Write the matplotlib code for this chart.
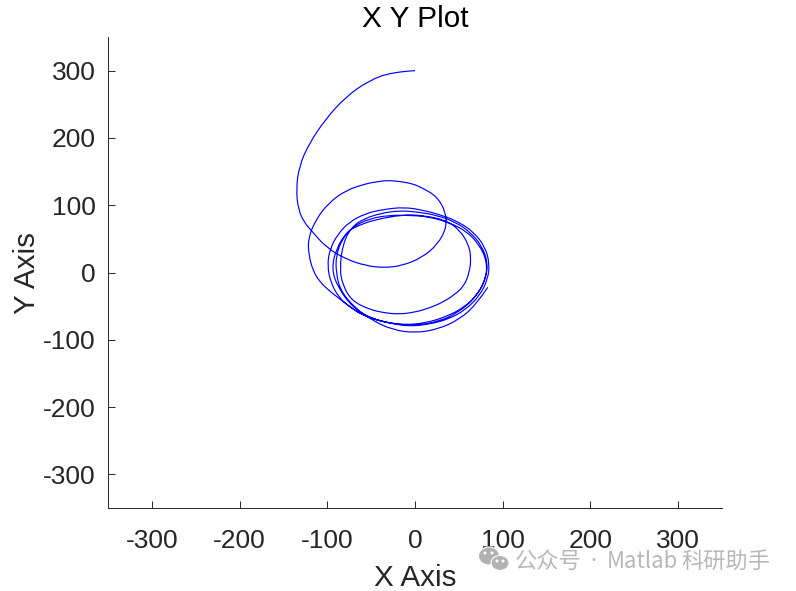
import matplotlib
matplotlib.use("Agg")
import matplotlib.pyplot as plt
from matplotlib.patches import Ellipse, PathPatch
from matplotlib.path import Path
from matplotlib.ticker import FuncFormatter

plt.rcParams['font.family'] = ['Liberation Sans', 'Noto Sans CJK SC', 'DejaVu Sans']

title = "X Y Plot"
xlabel = "X Axis"
ylabel = "Y Axis"
watermark_parts = ["公众号", "·", "Matlab", "科研助手"]
xticks = [-300, -200, -100, 0, 100, 200, 300]
yticks = [-300, -200, -100, 0, 100, 200, 300]

first_arc_x = [0, -26, -53, -79, -102, -121, -132, -135.5, -133, -126, -118,
               -101, -79, -56, -35, -15, 8, 26, 36, 35, 25, 8, -3, -16, -30, -43, -56, -79, -98, -113, -122]
first_arc_y = [300, 298, 285, 261, 228, 191, 158, 124, 93, 74, 62,
               37, 20, 10, 7, 10, 22, 42, 67, 90, 113, 126, 132, 135, 137, 135, 132, 122, 104, 79, 50]
outer_x = [-121, -116, -109, -98, -87, -75, -62, -45, -26, -7, 16, 39, 58, 74, 83, 85, 80, 67, 50, 31, 8, -12.5, -35, -56, -75,
           -88, -97, -100, -96, -87, -73, -56, -35, -12, 12, 35, 56, 72, 81, 83, 76, 63, 46, 25, 3, -18, -39, -58, -72, -82]
outer_y = [25, 2, -13, -27, -38, -50, -62, -70, -76, -80, -77, -69, -55, -34, -10, 13, 38, 60, 75, 85, 93, 97, 94, 88, 75,
           57, 35, 10, -15, -37, -53, -65, -74, -78, -75, -66, -52, -32, -7, 15, 40, 60, 75, 85, 90, 92, 88, 80, 68, 44]
inner_x = [-86, -82, -72, -52, -35, -18, 0, 16, 32, 45, 56, 62, 64, 61, 51, 35, 8, -14, -47, -62, -77, -90, -95, -88, -71, -49, -26, 0, 27,
           50, 69, 81, 82, 73, 58, 39, 16, -7, -30, -52, -71, -83, -90, -90, -85, -69, -49, -26, 0, 27, 50, 69, 83]
inner_y = [5, -20, -42, -55, -60, -62, -59, -53, -44, -33, -20, 0, 22, 42, 63, 78, 85, 86, 78, 71, 62, 35, 5, -22, -52, -69, -76, -79, -73,
           -59, -37, -10, 17, 42, 62, 74, 83, 85, 85, 80, 68, 50, 25, 0, -27, -52, -71, -85, -90, -84, -70, -49, -22]

curve_x = first_arc_x + outer_x + inner_x
curve_y = first_arc_y + outer_y + inner_y


def smooth_path(xs, ys):
    """Quadratic Bezier path using the read points as control points."""
    verts = [(xs[0], ys[0])]
    codes = [Path.MOVETO]
    for i in range(1, len(xs) - 1):
        verts.append((xs[i], ys[i]))
        codes.append(Path.CURVE3)
        if i < len(xs) - 2:
            verts.append(((xs[i] + xs[i + 1]) / 2, (ys[i] + ys[i + 1]) / 2))
        else:
            verts.append((xs[i + 1], ys[i + 1]))
        codes.append(Path.CURVE3)
    return Path(verts, codes)


fig = plt.figure(figsize=(7.96, 5.91), dpi=100)
ax = fig.add_axes([108 / 796, 1 - 508 / 591, (722 - 108) / 796, (508 - 37) / 591])
ax.add_patch(PathPatch(smooth_path(curve_x, curve_y), fill=False, edgecolor='#0000ff', lw=0.85))
ax.set_xlim(-350, 350)
ax.set_ylim(-350, 350)
ax.set_xticks(xticks)
ax.set_yticks(yticks)
ax.spines['top'].set_visible(False)
ax.spines['right'].set_visible(False)
for s in ('left', 'bottom'):
    ax.spines[s].set_linewidth(0.7)
    ax.spines[s].set_color('#262626')
ax.tick_params(direction='in', length=5, width=0.7, colors='#262626', labelsize=19)
ax.tick_params(axis='x', pad=15)
ax.tick_params(axis='y', pad=9)
ax.xaxis.set_major_formatter(FuncFormatter(lambda v, p: f"{int(v)}"))
ax.yaxis.set_major_formatter(FuncFormatter(lambda v, p: f"{int(v)}"))
ax.set_xlabel(xlabel, fontsize=21.3, color='#262626', labelpad=8)
ax.set_ylabel(ylabel, fontsize=21.3, color='#262626', labelpad=1)
ax.set_title(title, fontsize=21.4, color='black', pad=7)

# watermark
part_left_px = [515, 586, 607, 681]
part_size = [16, 10, 16, 16]
for part, left, size in zip(watermark_parts, part_left_px, part_size):
    fig.text(left / 796, 1 - 561 / 591, part, fontsize=size, color='#b8b8b8', va='center', ha='left',
             family=['Noto Sans CJK SC', 'DejaVu Sans'])
for cx, cy, w, h in [(489, 556, 21, 18), (500, 563, 18, 15)]:
    fig.add_artist(Ellipse((cx / 796, 1 - cy / 591), w / 796, h / 591, transform=fig.transFigure,
                           facecolor='#b2b2b2', edgecolor='white', lw=0.8))
for cx, cy in [(485, 553), (492, 553), (497, 561), (503, 561)]:
    fig.add_artist(Ellipse((cx / 796, 1 - cy / 591), 3 / 796, 3 / 591, transform=fig.transFigure,
                           facecolor='white', edgecolor='none'))

fig.savefig('out.png', dpi=100)
